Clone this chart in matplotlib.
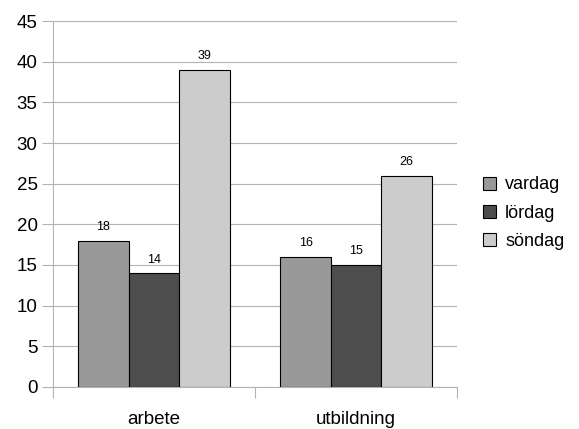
import numpy as np
import matplotlib.pyplot as plt

plt.rcParams['font.family'] = ['Liberation Sans', 'DejaVu Sans']

categories = ['arbete', 'utbildning']
series = ['vardag', 'lördag', 'söndag']
vardag = [18, 16]
lordag = [14, 15]
sondag = [39, 26]
colors = ['#999999', '#4d4d4d', '#cccccc']

fig = plt.figure(figsize=(5.79, 4.29), dpi=100)
ax = fig.add_axes([0.0915, 0.098, 0.698, 0.853])

x = np.arange(len(categories))
w = 0.25
for i, (vals, name) in enumerate(zip([vardag, lordag, sondag], series)):
    pos = x + (i - 1) * w
    bars = ax.bar(pos, vals, w, color=colors[i], edgecolor='black', linewidth=0.8,
                  label=name, zorder=3)
    for b, v in zip(bars, vals):
        ax.text(b.get_x() + b.get_width() / 2, v + 1.3, str(v), ha='center',
                va='baseline', fontsize=9)

ax.set_xlim(-0.5, 1.5)
ax.set_ylim(0, 45)
ax.set_yticks(range(0, 46, 5))
ax.yaxis.grid(True, color='#b3b3b3', linewidth=0.8, zorder=0)
ax.tick_params(axis='y', length=8, color='#b3b3b3', labelsize=13.5, pad=3)

# category labels centered, tick marks at the category boundaries
ax.set_xticks([-0.5, 0.5, 1.5])
ax.set_xticklabels([])
ax.set_xticks(x, minor=True)
ax.set_xticklabels(categories, minor=True, fontsize=13.5)
ax.tick_params(axis='x', which='major', length=8, color='#b3b3b3')
ax.tick_params(axis='x', which='minor', length=0, pad=17)

for s in ['top', 'right']:
    ax.spines[s].set_visible(False)
for s in ['left', 'bottom']:
    ax.spines[s].set_color('#b3b3b3')
    ax.spines[s].set_linewidth(0.8)

ax.legend(loc='center left', bbox_to_anchor=(1.023, 0.475), frameon=False,
          fontsize=13, handlelength=0.75, handleheight=0.75, handletextpad=0.5,
          labelspacing=0.62)

fig.savefig('out.png', dpi=100)
